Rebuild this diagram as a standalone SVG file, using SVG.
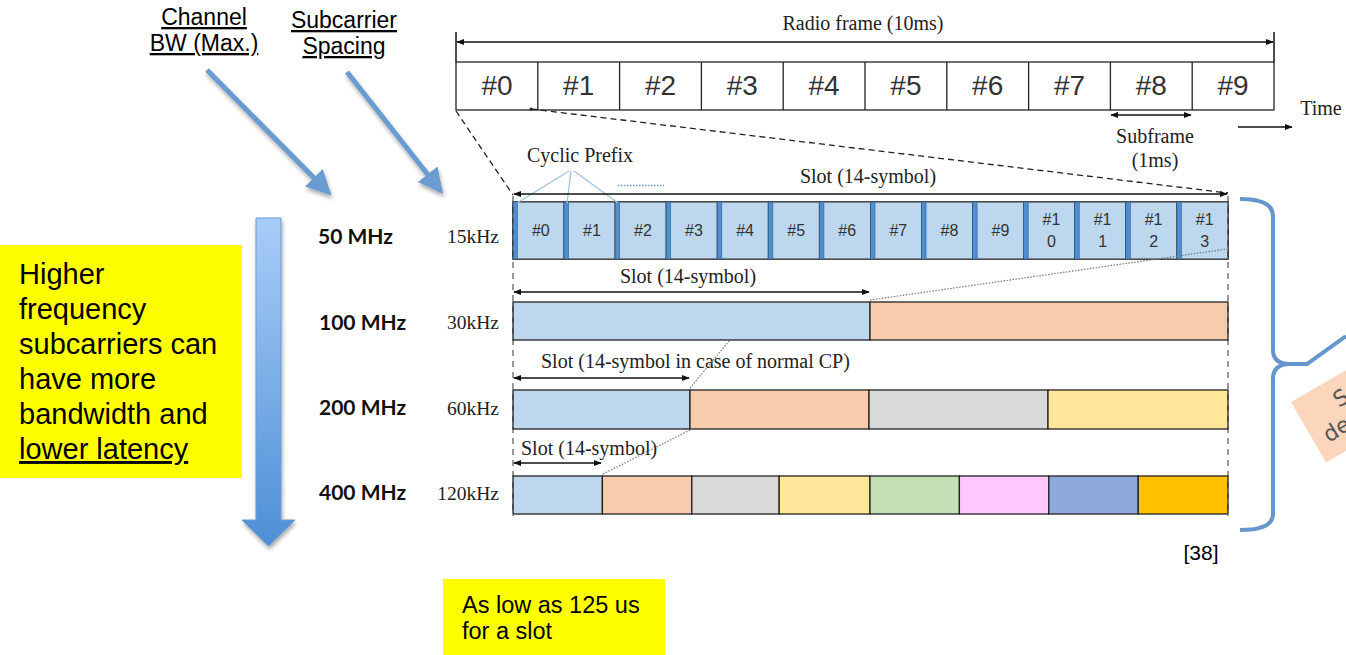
<svg xmlns="http://www.w3.org/2000/svg" width="1346" height="655" viewBox="0 0 1346 655">
  <style>
    .serif { font-family: "Liberation Serif", "Times New Roman", serif; fill: #222; }
    .sans { font-family: "Liberation Sans", Arial, sans-serif; fill: #000; }
    .cell { font-family: "Liberation Sans Narrow", "Liberation Sans", Arial, sans-serif; fill: #333; }
    .bw { font-family: Lato, "Open Sans", sans-serif; font-weight: bold; font-size: 21px; fill: #111; }
    .box { stroke: #222; stroke-width: 1.3; }
    .dash { stroke: #222; stroke-width: 1.3; stroke-dasharray: 6 4; fill: none; }
    .vdash { stroke: #333; stroke-width: 1; stroke-dasharray: 6 5; fill: none; }
    .dot { stroke: #777; stroke-width: 1.2; stroke-dasharray: 1.5 1.5; fill: none; }
    .dim { stroke: #111; stroke-width: 1.5; fill: none; }
    .sym { fill: #bdd7ee; stroke: #333; stroke-width: 1; }
    .cp { fill: #4f8fd0; stroke: #2f5f90; stroke-width: 0.6; }
    .bluearrow { stroke: #6a9bd1; stroke-width: 5; fill: none; }
  </style>
  <defs>
    <marker id="ah" viewBox="0 0 10 10" refX="9" refY="5" markerWidth="8" markerHeight="8" orient="auto-start-reverse" markerUnits="userSpaceOnUse">
      <path d="M0,1 L10,5 L0,9 z" fill="#111"/>
    </marker>
    <marker id="bh" viewBox="0 0 10 10" refX="8" refY="5" markerWidth="5" markerHeight="5" orient="auto">
      <path d="M0,0 L10,5 L0,10 z" fill="#6a9bd1"/>
    </marker>
    <linearGradient id="shaft" x1="0" y1="0" x2="0" y2="1">
      <stop offset="0" stop-color="#a9cdf8"/>
      <stop offset="1" stop-color="#4d8fd6"/>
    </linearGradient>
    <filter id="shadow" x="-50%" y="-10%" width="200%" height="130%">
      <feGaussianBlur in="SourceAlpha" stdDeviation="2"/>
      <feOffset dx="1" dy="3" result="b"/>
      <feComponentTransfer><feFuncA type="linear" slope="0.35"/></feComponentTransfer>
      <feMerge><feMergeNode/><feMergeNode in="SourceGraphic"/></feMerge>
    </filter>
  </defs>

  <rect width="1346" height="655" fill="#fff"/>

  <!-- column headings -->
  <g id="heading-bw">
    <text class="sans" font-size="23" x="204" y="25" text-anchor="middle" text-decoration="underline">Channel</text>
    <text class="sans" font-size="23" x="204" y="51" text-anchor="middle" text-decoration="underline">BW (Max.)</text>
  </g>
  <g id="heading-scs">
    <text class="sans" font-size="23" x="344" y="28" text-anchor="middle" text-decoration="underline">Subcarrier</text>
    <text class="sans" font-size="23" x="344" y="54" text-anchor="middle" text-decoration="underline">Spacing</text>
  </g>

  <!-- radio frame -->
  <g id="radio-frame">
    <text class="serif" font-size="20" x="863" y="30" text-anchor="middle">Radio frame (10ms)</text>
    <line x1="456" y1="32" x2="456" y2="62" class="dim"/>
    <line x1="1274" y1="32" x2="1274" y2="62" class="dim"/>
    <line x1="457" y1="42" x2="1273" y2="42" class="dim" marker-start="url(#ah)" marker-end="url(#ah)"/>
    <rect x="456" y="62" width="818" height="48" fill="#fff" class="box"/>
    <g class="box">
      <line x1="537.8" y1="62" x2="537.8" y2="110"/>
      <line x1="619.6" y1="62" x2="619.6" y2="110"/>
      <line x1="701.4" y1="62" x2="701.4" y2="110"/>
      <line x1="783.2" y1="62" x2="783.2" y2="110"/>
      <line x1="865" y1="62" x2="865" y2="110"/>
      <line x1="946.8" y1="62" x2="946.8" y2="110"/>
      <line x1="1028.6" y1="62" x2="1028.6" y2="110"/>
      <line x1="1110.4" y1="62" x2="1110.4" y2="110"/>
      <line x1="1192.2" y1="62" x2="1192.2" y2="110"/>
    </g>
    <g class="cell" font-size="28" text-anchor="middle">
      <text x="497" y="95">#0</text>
      <text x="578.7" y="95">#1</text>
      <text x="660.5" y="95">#2</text>
      <text x="742.3" y="95">#3</text>
      <text x="824.1" y="95">#4</text>
      <text x="905.9" y="95">#5</text>
      <text x="987.7" y="95">#6</text>
      <text x="1069.5" y="95">#7</text>
      <text x="1151.3" y="95">#8</text>
      <text x="1233.1" y="95">#9</text>
    </g>
  </g>

  <g id="subframe">
    <line x1="1111" y1="115" x2="1191" y2="115" class="dim" marker-start="url(#ah)" marker-end="url(#ah)"/>
    <text class="serif" font-size="20" x="1155" y="143" text-anchor="middle">Subframe</text>
    <text class="serif" font-size="20" x="1155" y="167" text-anchor="middle">(1ms)</text>
  </g>
  <g id="time">
    <text class="serif" font-size="20" x="1321" y="115" text-anchor="middle">Time</text>
    <line x1="1238" y1="127" x2="1292" y2="127" class="dim" marker-end="url(#ah)"/>
  </g>

  <!-- 15 kHz symbol row -->
  <g id="row-15k">
    <text class="serif" font-size="19.5" x="473" y="243" text-anchor="middle">15kHz</text>
    <text class="bw" x="318" y="244">50 MHz</text>
    <rect x="513" y="202" width="715" height="57" fill="#bdd7ee" stroke="#333" stroke-width="1.5"/>
    <g id="symbols">
      <g class="sym">
        <rect x="513" y="202" width="51.07" height="57"/>
        <rect x="564.07" y="202" width="51.07" height="57"/>
        <rect x="615.14" y="202" width="51.07" height="57"/>
        <rect x="666.21" y="202" width="51.07" height="57"/>
        <rect x="717.28" y="202" width="51.07" height="57"/>
        <rect x="768.35" y="202" width="51.07" height="57"/>
        <rect x="819.42" y="202" width="51.07" height="57"/>
        <rect x="870.49" y="202" width="51.07" height="57"/>
        <rect x="921.56" y="202" width="51.07" height="57"/>
        <rect x="972.63" y="202" width="51.07" height="57"/>
        <rect x="1023.7" y="202" width="51.07" height="57"/>
        <rect x="1074.77" y="202" width="51.07" height="57"/>
        <rect x="1125.84" y="202" width="51.07" height="57"/>
        <rect x="1176.91" y="202" width="51.09" height="57"/>
      </g>
      <g class="cp">
        <rect x="513" y="202" width="4.5" height="57"/>
        <rect x="564.07" y="202" width="4.5" height="57"/>
        <rect x="615.14" y="202" width="4.5" height="57"/>
        <rect x="666.21" y="202" width="4.5" height="57"/>
        <rect x="717.28" y="202" width="4.5" height="57"/>
        <rect x="768.35" y="202" width="4.5" height="57"/>
        <rect x="819.42" y="202" width="4.5" height="57"/>
        <rect x="870.49" y="202" width="4.5" height="57"/>
        <rect x="921.56" y="202" width="4.5" height="57"/>
        <rect x="972.63" y="202" width="4.5" height="57"/>
        <rect x="1023.7" y="202" width="4.5" height="57"/>
        <rect x="1074.77" y="202" width="4.5" height="57"/>
        <rect x="1125.84" y="202" width="4.5" height="57"/>
        <rect x="1176.91" y="202" width="4.5" height="57"/>
      </g>
      <g class="cell" font-size="16" text-anchor="middle">
        <text x="540.8" y="236">#0</text>
        <text x="591.9" y="236">#1</text>
        <text x="643" y="236">#2</text>
        <text x="694" y="236">#3</text>
        <text x="745.1" y="236">#4</text>
        <text x="796.2" y="236">#5</text>
        <text x="847.2" y="236">#6</text>
        <text x="898.3" y="236">#7</text>
        <text x="949.4" y="236">#8</text>
        <text x="1000.4" y="236">#9</text>
        <text x="1051.5" y="225">#1</text><text x="1051.5" y="247">0</text>
        <text x="1102.6" y="225">#1</text><text x="1102.6" y="247">1</text>
        <text x="1153.6" y="225">#1</text><text x="1153.6" y="247">2</text>
        <text x="1204.7" y="225">#1</text><text x="1204.7" y="247">3</text>
      </g>
    </g>
  </g>

  <g id="cyclic-prefix">
    <text class="serif" font-size="20" x="580" y="162" text-anchor="middle">Cyclic Prefix</text>
    <g stroke="#9cc3e0" stroke-width="1.2" fill="none">
      <line x1="569" y1="171" x2="517" y2="203"/>
      <line x1="571" y1="171" x2="567" y2="203"/>
      <line x1="574" y1="171" x2="618" y2="203"/>
    </g>
    <line x1="618" y1="185.5" x2="664" y2="185.5" stroke="#5b9bd5" stroke-width="1.5" stroke-dasharray="1.5 1.5"/>
  </g>

  <!-- 30 kHz -->
  <g id="row-30k">
    <text class="serif" font-size="19.5" x="473" y="329" text-anchor="middle">30kHz</text>
    <text class="bw" x="319" y="330">100 MHz</text>
    <rect x="513" y="302" width="357" height="38" fill="#bdd7ee" class="box"/>
    <rect x="870" y="302" width="358" height="38" fill="#f8cbad" class="box"/>
  </g>

  <!-- 60 kHz -->
  <g id="row-60k">
    <text class="serif" font-size="19.5" x="473" y="415" text-anchor="middle">60kHz</text>
    <text class="bw" x="319" y="415">200 MHz</text>
    <rect x="513" y="390" width="177" height="39" fill="#bdd7ee" class="box"/>
    <rect x="690" y="390" width="179" height="39" fill="#f8cbad" class="box"/>
    <rect x="869" y="390" width="179" height="39" fill="#d9d9d9" class="box"/>
    <rect x="1048" y="390" width="180" height="39" fill="#ffe699" class="box"/>
  </g>

  <!-- 120 kHz -->
  <g id="row-120k">
    <text class="serif" font-size="19.5" x="468" y="500" text-anchor="middle">120kHz</text>
    <text class="bw" x="319" y="500">400 MHz</text>
    <rect x="513" y="476" width="89.4" height="38" fill="#bdd7ee" class="box"/>
    <rect x="602.4" y="476" width="89.4" height="38" fill="#f8cbad" class="box"/>
    <rect x="691.8" y="476" width="87.4" height="38" fill="#d9d9d9" class="box"/>
    <rect x="779.2" y="476" width="90.8" height="38" fill="#ffe699" class="box"/>
    <rect x="870" y="476" width="89.4" height="38" fill="#c5e0b4" class="box"/>
    <rect x="959.4" y="476" width="89.4" height="38" fill="#fdc8fb" class="box"/>
    <rect x="1048.8" y="476" width="89.4" height="38" fill="#8eaadb" class="box"/>
    <rect x="1138.2" y="476" width="89.8" height="38" fill="#ffc000" class="box"/>
  </g>

  <!-- connectors: zoom lines, slot spans, pointers -->
  <g id="connectors">
    <path class="dash" d="M456,111 L513,195"/>
    <path class="dash" d="M531,109 L1228,193"/>
    <circle cx="531" cy="109" r="1.5" fill="#222"/>
    <path class="vdash" d="M513,196 V516"/>
    <path class="vdash" d="M1228,196 V516"/>

    <text class="serif" font-size="20" x="868" y="183" text-anchor="middle">Slot (14-symbol)</text>
    <line x1="514" y1="194" x2="1227" y2="194" class="dim" marker-start="url(#ah)" marker-end="url(#ah)"/>

    <text class="serif" font-size="20" x="688" y="283" text-anchor="middle">Slot (14-symbol)</text>
    <line x1="514" y1="292" x2="869" y2="292" class="dim" marker-start="url(#ah)" marker-end="url(#ah)"/>
    <path class="dot" d="M870,300 L1227,249"/>

    <text class="serif" font-size="20" x="541" y="368">Slot (14-symbol in case of normal CP)</text>
    <line x1="514" y1="378" x2="689" y2="378" class="dim" marker-start="url(#ah)" marker-end="url(#ah)"/>
    <path class="dot" d="M690,388 L730,340"/>

    <text class="serif" font-size="20" x="521" y="455">Slot (14-symbol)</text>
    <line x1="514" y1="463" x2="601" y2="463" class="dim" marker-start="url(#ah)" marker-end="url(#ah)"/>
    <path class="dot" d="M603,474 L690,430"/>

    <!-- pointers from the headings -->
    <line x1="207" y1="70" x2="328" y2="192" class="bluearrow" marker-end="url(#bh)" filter="url(#shadow)"/>
    <line x1="347" y1="72" x2="440" y2="190" class="bluearrow" marker-end="url(#bh)" filter="url(#shadow)"/>

    <!-- pointer to the 120 kHz slot -->
    <line x1="553" y1="598" x2="553" y2="535" class="bluearrow" marker-end="url(#bh)" filter="url(#shadow)"/>
  </g>

  <!-- trend arrow -->
  <g id="trend-arrow" filter="url(#shadow)">
    <path d="M256,218 H281 V520 H295 L268.5,546 L242,520 H256 Z" fill="url(#shaft)" stroke="#6a9bd1" stroke-width="1"/>
  </g>

  <g id="note-latency">
    <rect x="0" y="245" width="242" height="233" fill="#ffff00"/>
    <g class="sans" font-size="29" fill="#000">
      <text x="19" y="284">Higher</text>
      <text x="19" y="319">frequency</text>
      <text x="19" y="354">subcarriers can</text>
      <text x="19" y="389">have more</text>
      <text x="19" y="424">bandwidth and</text>
      <text x="19" y="459" text-decoration="underline">lower latency</text>
    </g>
  </g>

  <g id="note-slot">
    <rect x="443" y="579" width="222" height="76" fill="#ffff00"/>
    <text class="sans" font-size="23.5" x="462" y="613">As low as 125 us</text>
    <text class="sans" font-size="23.5" x="462" y="639">for a slot</text>
  </g>

  <g id="ref">
    <text class="sans" font-size="21" x="1201" y="560" text-anchor="middle">[38]</text>
  </g>

  <!-- brace grouping the four numerologies -->
  <g id="brace">
    <path d="M1240,199 Q1273,199 1273,216 V350 Q1273,364 1290,364 L1307,364 L1346,336 M1290,364 Q1273,364 1273,379 V514 Q1273,530 1240,530" fill="none" stroke="#6495cc" stroke-width="4"/>
  </g>

  <g id="side-note">
    <g transform="translate(1291,402) rotate(-30)">
      <rect x="0" y="0" width="120" height="70" fill="#fbd6bd"/>
    </g>
    <text font-family="'DejaVu Sans', sans-serif" font-size="22" fill="#555" transform="translate(1339,408) rotate(-32)">S</text>
    <text font-family="'DejaVu Sans', sans-serif" font-size="22" fill="#555" transform="translate(1329,443) rotate(-32)">de</text>
  </g>
</svg>
